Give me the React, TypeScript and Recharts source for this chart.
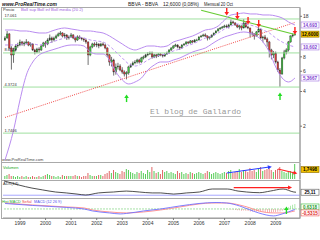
import React from "react";
import {
  ComposedChart,
  Bar,
  Line,
  XAxis,
  YAxis,
  ReferenceLine,
  ReferenceDot,
  Cell,
} from "recharts";

// monthly BBVA candles, Jun 1998 .. Oct 2009
const FIRST_YEAR = 1998;
const FIRST_MONTH = 6;

const opens = [
  11.2, 11.67, 12.64, 9.55, 8.31, 9.18, 9.94,
  10.14, 10.77, 10.35, 10.56, 10.77, 10.14, 10.35, 9.18, 8.82, 9.36, 9.18, 9.94,
  10.56, 10.35, 11.21, 11.67, 11.21, 11.67, 12.14, 12.64, 12.89, 12.14, 12.39, 11.67,
  11.9, 12.39, 11.67, 11.21, 11.9, 11.67, 11.44, 11.21, 10.77, 8.31, 9.75, 10.35,
  10.14, 10.35, 9.94, 10.35, 10.14, 9.55, 8.31, 7.22, 7.51, 5.91, 6.53, 6.66,
  6.15, 5.91, 5.68, 5.8, 6.53, 6.8, 7.08, 7.22, 7.51, 7.22, 7.82, 7.98,
  8.31, 8.47, 8.64, 7.98, 8.31, 8.14, 8.47, 8.31, 8.14, 8.47, 8.64, 9.18,
  9.55, 9.94, 10.14, 9.75, 9.55, 10.14, 10.35, 10.77, 10.56, 10.99, 10.77, 11.21,
  11.21, 11.9, 12.14, 12.39, 12.14, 11.67, 11.9, 12.39, 12.89, 13.42, 13.97, 14.25,
  14.54, 14.83, 14.54, 15.13, 16.07, 15.75, 15.13, 14.54, 14.83, 14.25, 15.75, 14.54,
  14.25, 12.89, 12.64, 12.14, 13.16, 13.97, 11.67, 11.9, 11.44, 10.77, 9.18, 8.31,
  8.64, 7.22, 6.15, 5.68, 7.82, 8.82, 9.18, 10.77, 12.14, 12.39,
];

const closes = [
  11.67, 12.64, 9.55, 8.31, 9.18, 9.94, 10.14,
  10.77, 10.35, 10.56, 10.77, 10.14, 10.35, 9.18, 8.82, 9.36, 9.18, 9.94, 10.56,
  10.35, 11.21, 11.67, 11.21, 11.67, 12.14, 12.64, 12.89, 12.14, 12.39, 11.67, 11.9,
  12.39, 11.67, 11.21, 11.9, 11.67, 11.44, 11.21, 10.77, 8.31, 9.75, 10.35, 10.14,
  10.35, 9.94, 10.35, 10.14, 9.55, 8.31, 7.22, 7.51, 5.91, 6.53, 6.66, 6.15,
  5.91, 5.68, 5.8, 6.53, 6.8, 7.08, 7.22, 7.51, 7.22, 7.82, 7.98, 8.31,
  8.47, 8.64, 7.98, 8.31, 8.14, 8.47, 8.31, 8.14, 8.47, 8.64, 9.18, 9.55,
  9.94, 10.14, 9.75, 9.55, 10.14, 10.35, 10.77, 10.56, 10.99, 10.77, 11.21, 11.21,
  11.9, 12.14, 12.39, 12.14, 11.67, 11.9, 12.39, 12.89, 13.42, 13.97, 14.25, 14.54,
  14.83, 14.54, 15.13, 16.07, 15.75, 15.13, 14.54, 14.83, 14.25, 15.75, 14.54, 14.25,
  12.89, 12.64, 12.14, 13.16, 13.97, 11.67, 11.9, 11.44, 10.77, 9.18, 8.31, 8.64,
  7.22, 6.15, 5.68, 7.82, 8.82, 9.18, 10.77, 12.14, 12.39, 12.6,
];

const highs = [
  12.1, 13.4, 12.9, 9.9, 9.6, 10.3, 10.6,
  11.3, 11.0, 10.9, 11.4, 10.9, 10.7, 10.5, 9.4, 9.6, 9.7, 10.2, 10.8,
  11.0, 11.6, 12.5, 12.0, 12.0, 12.5, 13.0, 13.4, 13.1, 12.9, 12.6, 12.3,
  12.9, 12.6, 11.9, 12.3, 12.3, 11.9, 11.7, 11.4, 10.9, 10.0, 10.6, 10.7,
  10.8, 10.5, 10.6, 10.7, 10.4, 9.7, 8.5, 8.0, 7.7, 7.0, 7.1, 6.9,
  6.5, 6.1, 6.0, 6.7, 7.0, 7.3, 7.5, 7.7, 7.7, 8.0, 8.2, 8.5,
  8.8, 8.9, 8.9, 8.5, 8.5, 8.6, 8.6, 8.5, 8.6, 8.9, 9.3, 9.7,
  10.1, 10.4, 10.3, 9.9, 10.3, 10.5, 10.9, 10.9, 11.2, 11.2, 11.4, 11.5,
  12.1, 12.4, 12.7, 12.8, 12.3, 12.1, 12.5, 13.0, 13.6, 14.2, 14.5, 14.8,
  15.2, 15.3, 15.5, 16.9, 16.5, 16.0, 15.4, 15.2, 15.0, 17.0, 15.9, 14.9,
  14.3, 13.3, 12.8, 13.4, 14.5, 14.0, 12.2, 12.4, 11.8, 11.0, 9.4, 9.0,
  8.9, 7.4, 6.4, 8.0, 9.2, 9.5, 11.0, 12.3, 12.8, 12.9,
];

const lows = [
  11.0, 11.5, 9.3, 6.2, 7.1, 8.9, 9.6,
  9.9, 10.0, 9.9, 10.3, 9.9, 9.8, 9.0, 8.4, 8.6, 8.7, 9.0, 9.8,
  9.6, 10.1, 11.0, 10.6, 10.9, 11.4, 12.0, 12.3, 11.8, 11.6, 11.2, 11.3,
  11.7, 11.4, 10.7, 11.0, 11.4, 11.1, 10.8, 10.4, 6.8, 8.1, 9.5, 9.8,
  9.7, 9.5, 9.8, 9.9, 9.3, 8.0, 6.7, 6.6, 5.5, 5.6, 6.2, 6.0,
  5.7, 5.4, 5.1, 5.6, 6.4, 6.7, 6.9, 7.0, 7.0, 7.1, 7.6, 7.8,
  8.1, 8.3, 7.7, 7.8, 7.8, 8.0, 8.1, 7.9, 8.0, 8.3, 8.5, 9.0,
  9.4, 9.8, 9.5, 9.2, 9.4, 10.0, 10.2, 10.3, 10.4, 10.5, 10.6, 11.0,
  11.1, 11.8, 12.0, 11.9, 11.1, 11.3, 11.7, 12.2, 12.8, 13.3, 13.8, 14.1,
  14.3, 14.2, 14.1, 15.0, 15.5, 14.9, 14.2, 13.8, 13.6, 14.1, 14.2, 13.9,
  11.8, 12.2, 11.3, 12.0, 13.0, 11.4, 10.7, 11.2, 9.8, 7.9, 7.6, 7.8,
  7.0, 5.9, 4.4, 5.6, 7.6, 8.4, 8.9, 10.6, 11.8, 12.2,
];

const volumes = [
  0.35, 0.47, 0.58, 0.35, 0.35, 0.23, 0.35,
  0.23, 0.35, 0.23, 0.35, 0.23, 0.23, 0.35, 0.23, 0.23, 0.35, 0.23, 0.35,
  0.47, 0.58, 0.47, 0.35, 0.35, 0.23, 0.35, 0.23, 0.47, 0.35, 0.35, 0.35,
  0.35, 0.35, 0.47, 0.35, 0.35, 0.23, 0.35, 0.35, 0.7, 0.47, 0.35, 0.35,
  0.35, 0.47, 0.47, 0.35, 0.58, 0.7, 0.93, 0.7, 1.05, 0.82, 0.7, 0.58,
  0.93, 0.82, 1.17, 1.05, 0.82, 0.7, 0.58, 0.82, 0.7, 0.93, 0.7, 0.58,
  1.05, 0.82, 1.4, 0.93, 0.7, 0.82, 0.58, 1.05, 0.82, 0.93, 0.7, 0.82,
  0.7, 0.58, 0.93, 0.7, 0.82, 0.58, 0.7, 0.58, 0.82, 0.7, 0.58, 0.7,
  0.82, 0.7, 0.58, 0.7, 0.93, 0.82, 0.58, 0.7, 0.82, 0.7, 0.58, 0.7,
  0.82, 0.7, 0.93, 1.05, 0.7, 0.82, 0.93, 1.17, 0.82, 1.05, 0.93, 0.82,
  1.28, 0.93, 1.05, 0.82, 1.17, 1.4, 0.93, 1.05, 1.17, 1.52, 1.05, 0.82,
  1.05, 1.17, 1.4, 0.93, 0.82, 0.7, 0.82, 0.93, 0.82, 1.75,
];

// Bollinger (20, 2) every quarter
const bandMonths = [
  "1998-06", "1998-10", "1999-01", "1999-04", "1999-07", "1999-10",
  "2000-01", "2000-04", "2000-07", "2000-10", "2001-01", "2001-04",
  "2001-07", "2001-10", "2002-01", "2002-04", "2002-07", "2002-10",
  "2003-01", "2003-04", "2003-07", "2003-10", "2004-01", "2004-04",
  "2004-07", "2004-10", "2005-01", "2005-04", "2005-07", "2005-10",
  "2006-01", "2006-04", "2006-07", "2006-10", "2007-01", "2007-04",
  "2007-07", "2007-10", "2008-01", "2008-04", "2008-07", "2008-10",
  "2009-01", "2009-04", "2009-07", "2009-10",
];
const bbUpper = [
  13.69, 13.69, 13.42, 13.42, 13.16, 12.89, 12.89, 13.42, 13.97, 14.25, 13.97, 13.69,
  13.42, 13.42, 13.16, 12.89, 12.14, 11.21, 10.35, 9.55, 9.18, 9.55, 9.94, 9.94,
  9.75, 9.94, 10.77, 11.21, 11.67, 12.14, 12.89, 13.69, 13.97, 14.83, 16.72, 18.48,
  18.86, 19.24, 18.86, 18.86, 18.48, 18.48, 18.12, 17.41, 16.07, 15.13,
];
const bbMid = [
  10.14, 10.14, 10.35, 10.35, 10.35, 10.14, 10.35, 10.77, 11.21, 11.67, 11.9, 11.9,
  11.67, 11.21, 10.99, 10.77, 9.94, 8.82, 7.82, 6.94, 6.66, 6.94, 7.51, 7.98,
  8.31, 8.47, 9.0, 9.36, 9.94, 10.35, 10.99, 11.67, 12.14, 12.89, 13.97, 14.83,
  15.44, 15.44, 15.13, 14.54, 13.69, 12.89, 11.67, 10.77, 10.14, 9.75,
];
const bbLower = [
  1.02, 1.85, 3.38, 5.57, 7.22, 8.31, 8.82, 9.18, 9.55, 9.94, 10.14, 10.14,
  9.94, 8.82, 8.47, 8.47, 7.51, 5.91, 5.04, 4.65, 4.84, 5.24, 6.15, 6.8,
  7.22, 7.22, 7.51, 7.82, 8.31, 8.82, 9.18, 9.55, 10.35, 11.21, 11.9, 12.39,
  12.89, 13.16, 12.89, 12.14, 10.77, 8.82, 6.53, 5.24, 4.84, 5.24,
];

const levelLines = [17.061, 8.6522, 4.3724, 1.7406];
const levelLabels = ["17.061", "8.6522", "4.3724", "1.7406"];
const priceTicks = [2, 4, 6, 8, 18];

const sellMonths = ["2007-02", "2007-07", "2007-12", "2008-05", "2009-10"];
const sellLevels = [19.62, 18.12, 16.39, 15.44, 13.42];
const buyMonths = ["2003-03", "2009-03"];
const buyLevels = [3.51, 3.66];

const adxMonths = [
  "1998-06", "1998-08", "1999-01", "1999-07", "1999-12", "2000-06", "2000-11",
  "2001-04", "2001-08", "2002-02", "2002-09", "2003-03", "2003-09", "2004-03",
  "2004-07", "2005-01", "2005-07", "2006-01", "2006-07", "2007-02", "2007-07",
  "2007-11", "2008-05", "2008-10", "2009-04", "2009-09", "2009-10",
];
const adxValues = [
  73.7, 69, 56, 43, 35, 26, 22, 17, 13, 22, 26, 30, 26, 22,
  22, 17, 22, 26, 39, 39, 30, 26, 23, 30, 39, 26, 25.1,
];

const macdMonths = [
  "1998-06", "1999-07", "2000-11", "2001-07", "2001-11", "2002-07", "2002-12",
  "2003-03", "2003-11", "2004-07", "2005-04", "2006-01", "2006-09", "2007-02",
  "2007-08", "2008-01", "2008-05", "2008-12", "2009-04", "2009-10",
];
const macdValues = [
  1.57, 1.0, 0.43, 0, -0.57, -1.14, -1.43, -1.29, -0.57, 0, 0.86, 1.57, 1.86, 1.71,
  0.86, -0.29, -1.14, -2.0, -1.43, -0.14,
];
const signalMonths = [
  "1998-06", "1999-07", "2000-11", "2001-07", "2001-11", "2002-07", "2003-03",
  "2003-11", "2004-07", "2005-04", "2006-01", "2006-07", "2007-02", "2007-08",
  "2008-01", "2008-05", "2008-12", "2009-04", "2009-10",
];
const signalValues = [
  1.71, 1.14, 0.57, 0.29, -0.29, -0.86, -1.14, -0.86, -0.29, 0.57, 1.43, 1.71, 1.71,
  1.14, 0.29, -0.57, -1.14, -1.14, -0.57,
];
const histStart = "2007-03";
const histValues = [
  -0.1, -0.15, -0.2, -0.3, -0.35, -0.4, -0.5, -0.45, -0.55, -0.6, -0.7, -0.75,
  -0.8, -0.7, -0.65, -0.8, -0.9, -0.95, -1.0, -1.1, -1.0, -0.95, -0.9, -0.8,
  -0.7, -0.5, -0.2, 0.2, 0.5, 0.9, 1.2, 1.4,
];

const yearTicks = [
  "1999-01", "2000-01", "2001-01", "2002-01", "2003-01", "2004-01",
  "2005-01", "2006-01", "2007-01", "2008-01", "2009-01",
];

const months = closes.map((_, i) => {
  const t = FIRST_MONTH - 1 + i;
  const y = FIRST_YEAR + Math.floor(t / 12);
  return `${y}-${String((t % 12) + 1).padStart(2, "0")}`;
});

const rows: any[] = months.map((month, i) => ({
  month,
  open: opens[i],
  close: closes[i],
  high: highs[i],
  low: lows[i],
  range: [lows[i], highs[i]],
  volume: volumes[i],
  up: closes[i] >= opens[i],
}));

function put(key: string, ms: string[], vs: number[]) {
  ms.forEach((m, j) => {
    const r = rows.find((row) => row.month === m);
    if (r) r[key] = vs[j];
  });
}
put("bbUpper", bandMonths, bbUpper);
put("bbMid", bandMonths, bbMid);
put("bbLower", bandMonths, bbLower);
put("sell", sellMonths, sellLevels);
put("buy", buyMonths, buyLevels);
put("adx", adxMonths, adxValues);
put("macd", macdMonths, macdValues);
put("signal", signalMonths, signalValues);
put("macdBuy", ["2009-06"], [-0.3]);
const h0 = months.indexOf(histStart);
histValues.forEach((v, j) => {
  rows[h0 + j].hist = v;
});

const FONT = "Liberation Sans, Arial, sans-serif";
const PURPLE = "#b98cf0";
const LEVEL = "#9fe09f";

function Candle(props: any) {
  const { x, y, width, height, payload } = props;
  if (!payload || height == null || isNaN(y)) return <g />;
  const { open, close, high, low } = payload;
  const span = Math.log(high) - Math.log(low);
  const at = (p: number) => y + (height * (Math.log(high) - Math.log(p))) / span;
  const top = at(Math.max(open, close));
  const bottom = at(Math.min(open, close));
  const cx = x + width / 2;
  const bw = Math.max(width - 0.4, 1);
  return (
    <g>
      <line x1={cx} x2={cx} y1={y} y2={y + height} stroke="#333" strokeWidth={0.7} />
      <rect
        x={cx - bw / 2}
        y={top}
        width={bw}
        height={Math.max(bottom - top, 0.8)}
        fill={payload.up ? "#3cc43c" : "#dd3a3a"}
        stroke="#333"
        strokeWidth={0.35}
      />
    </g>
  );
}

function SellArrow(props: any) {
  const { cx, cy, value } = props;
  if (value == null || cx == null || cy == null) return <g key={props.index} />;
  return (
    <g key={props.index}>
      <rect x={cx - 0.7} y={cy - 4} width={1.4} height={4} fill="#ff2020" />
      <polygon points={`${cx - 2.3},${cy} ${cx + 2.3},${cy} ${cx},${cy + 3.5}`} fill="#ff2020" />
    </g>
  );
}

function BuyArrow(props: any) {
  const { cx, cy, value } = props;
  if (value == null || cx == null || cy == null) return <g key={props.index} />;
  return (
    <g key={props.index}>
      <rect x={cx - 0.7} y={cy} width={1.4} height={4} fill="#22dd22" />
      <polygon points={`${cx - 2.3},${cy} ${cx + 2.3},${cy} ${cx},${cy - 3.5}`} fill="#22dd22" />
    </g>
  );
}

const arrowHead = (angle: number, color: string) => (props: any) => {
  const { cx, cy } = props;
  if (cx == null || cy == null) return <g />;
  return (
    <polygon
      points={`${cx + 2.5},${cy} ${cx - 1.5},${cy - 2} ${cx - 1.5},${cy + 2}`}
      fill={color}
      transform={`rotate(${angle} ${cx} ${cy})`}
    />
  );
};

const boxLabel = (text: string, bg: string, border: string, color: string, w = 18) => (props: any) => {
  const vb = props.viewBox;
  if (!vb) return <g />;
  const x = vb.x + vb.width + 1;
  const y = vb.y;
  return (
    <g>
      <rect x={x} y={y - 3} width={w} height={6} fill={bg} stroke={border} strokeWidth={0.6} />
      <text x={x + w / 2} y={y + 1.7} fontSize={4.6} textAnchor="middle" fill={color} fontFamily={FONT} fontWeight="bold">
        {text}
      </text>
    </g>
  );
};

const xAxisProps = { dataKey: "month", padding: { left: 1, right: 4 } };
const margin = { left: 3, right: 0 };

export default function App() {
  return (
    <div style={{ position: "fixed", left: 0, top: 0, width: 320, height: 240, background: "#fff", overflow: "hidden" }}>
      <style>{"body{margin:0}"}</style>
      <svg width={320} height={240} style={{ position: "absolute", left: 0, top: 0 }} fontFamily={FONT}>
        <rect x={1.5} y={7.5} width={298.5} height={211} fill="none" stroke="#aaa" strokeWidth={1} />
        <line x1={1.5} x2={300} y1={162.5} y2={162.5} stroke="#aaa" />
        <line x1={1.5} x2={300} y1={180.5} y2={180.5} stroke="#aaa" />
        <line x1={1.5} x2={300} y1={198.5} y2={198.5} stroke="#aaa" />
        <text x={2} y={6} fontSize={6.2} fontWeight="bold" fontStyle="italic" fill="#222" textLength={55} lengthAdjust="spacingAndGlyphs">
          www.ProRealTime.com
        </text>
        <text x={128} y={6} fontSize={5} fill="#222" textLength={30} lengthAdjust="spacingAndGlyphs">BBVA - BBVA</text>
        <text x={163} y={6} fontSize={5} fill="#222" textLength={36} lengthAdjust="spacingAndGlyphs">12,6000 (0,08%)</text>
        <text x={204} y={6} fontSize={5} fill="#222" textLength={29} lengthAdjust="spacingAndGlyphs">Mensual 20 Oct</text>
        <text x={3} y={11} fontSize={4} fill="#333">Precio</text>
        <text x={21} y={11} fontSize={4} fill="#a060e0" textLength={62} lengthAdjust="spacingAndGlyphs">
          Boll sup  Boll inf  Boll media (20 2)
        </text>
        <text x={150} y={114} fontSize={8} fill="#999" fontFamily="Liberation Mono, DejaVu Sans Mono, monospace" textLength={91} lengthAdjust="spacingAndGlyphs">
          El blog de Gallardo
        </text>
        <line x1={150} x2={241} y1={116.5} y2={116.5} stroke="#aaa" strokeWidth={0.8} />
        <text x={2} y={161} fontSize={4} fill="#444">www.ProRealTime.com</text>
        <text x={3} y={168.5} fontSize={4} fill="#22aa22">Volumen</text>
        <text x={3} y={185} fontSize={4} fill="#333">ADX(14)</text>
        <text x={2} y={202.5} fontSize={3.8} fill="#22aa22">Hist MACD</text>
        <text x={22} y={202.5} fontSize={3.8} fill="#ee4444">Señal</text>
        <text x={34} y={202.5} fontSize={3.8} fill="#5050ee">MACD (12 26 9)</text>
      </svg>

      {/* price panel */}
      <div style={{ position: "absolute", left: 0, top: 0 }}>
        <ComposedChart width={320} height={163} data={rows} margin={{ ...margin, top: 8, bottom: 1 }} barCategoryGap={0} barGap={0}>
          <XAxis {...xAxisProps} hide />
          <YAxis
            orientation="right"
            width={20}
            scale="log"
            domain={[0.977, 21.25]}
            allowDataOverflow
            ticks={priceTicks}
            interval={0}
            tickSize={2}
            tickMargin={1}
            tick={{ fontSize: 5, fill: "#333", fontFamily: FONT }}
            tickLine={{ stroke: "#777" }}
            axisLine={{ stroke: "#999" }}
          />
          {levelLines.map((v, i) => (
            <ReferenceLine
              key={v}
              y={v}
              stroke={LEVEL}
              strokeWidth={1}
              label={{ value: levelLabels[i], position: "insideBottomLeft", offset: 1.5, fontSize: 4, fill: "#333", fontFamily: FONT }}
            />
          ))}
          <ReferenceLine
            segment={[{ x: "1998-06", y: 2.38 }, { x: "2009-10", y: 15.91 }]}
            stroke="#ee3333"
            strokeWidth={0.9}
            strokeDasharray="1 1.2"
          />
          <ReferenceLine
            segment={[{ x: "2006-02", y: 20.3 }, { x: "2009-10", y: 12.5 }]}
            stroke="#66cc33"
            strokeWidth={1.2}
          />
          <Line dataKey="bbUpper" stroke={PURPLE} strokeWidth={1} dot={false} connectNulls type="monotone" isAnimationActive={false} />
          <Line dataKey="bbLower" stroke={PURPLE} strokeWidth={1} dot={false} connectNulls type="monotone" isAnimationActive={false} />
          <Line dataKey="bbMid" stroke={PURPLE} strokeWidth={0.9} strokeDasharray="3 2" dot={false} connectNulls type="monotone" isAnimationActive={false} />
          <Bar dataKey="range" shape={Candle} isAnimationActive={false} />
          <Line dataKey="sell" stroke="none" dot={SellArrow} activeDot={false} isAnimationActive={false} />
          <Line dataKey="buy" stroke="none" dot={BuyArrow} activeDot={false} isAnimationActive={false} />
          <ReferenceLine y={15.13} stroke="none" label={boxLabel("14,693", "#fff", "#a070e0", "#8040d0")} />
          <ReferenceLine y={12.6} stroke="none" label={boxLabel("12,6000", "#f2c200", "#8a6a00", "#000")} />
          <ReferenceLine y={9.75} stroke="none" label={boxLabel("10,602", "#fff", "#a070e0", "#8040d0")} />
          <ReferenceLine y={5.24} stroke="none" label={boxLabel("5,3667", "#fff", "#a070e0", "#8040d0")} />
        </ComposedChart>
      </div>

      {/* volume panel */}
      <div style={{ position: "absolute", left: 0, top: 162 }}>
        <ComposedChart width={320} height={18} data={rows} margin={{ ...margin, top: 1, bottom: 1 }} barCategoryGap="15%">
          <XAxis {...xAxisProps} hide />
          <YAxis orientation="right" width={20} domain={[0, 1.87]} allowDataOverflow ticks={[]} tick={false} tickLine={false} axisLine={{ stroke: "#999" }} />
          <Bar dataKey="volume" isAnimationActive={false}>
            {rows.map((r) => (
              <Cell key={r.month} fill={r.up ? "#55cc55" : "#e06666"} />
            ))}
          </Bar>
          <ReferenceLine segment={[{ x: "2007-02", y: 0.7 }, { x: "2008-10", y: 1.4 }]} stroke="#2a3cff" strokeWidth={1.2} />
          <ReferenceDot x="2008-10" y={1.4} r={2} shape={arrowHead(-9, "#2a3cff")} />
          <ReferenceLine segment={[{ x: "2009-02", y: 1.17 }, { x: "2009-10", y: 0.7 }]} stroke="#ff2020" strokeWidth={1.2} />
          <ReferenceDot x="2009-10" y={0.7} r={2} shape={arrowHead(14, "#ff2020")} />
          <ReferenceLine y={1.1} stroke="none" label={boxLabel("1,7498", "#f2c200", "#8a6a00", "#000")} />
        </ComposedChart>
      </div>

      {/* ADX panel */}
      <div style={{ position: "absolute", left: 0, top: 180 }}>
        <ComposedChart width={320} height={18} data={rows} margin={{ ...margin, top: 0, bottom: 0 }}>
          <XAxis {...xAxisProps} hide />
          <YAxis
            orientation="right"
            width={20}
            domain={[0, 78]}
            allowDataOverflow
            ticks={[60]}
            tickSize={2}
            tickMargin={1}
            tick={{ fontSize: 5, fill: "#333", fontFamily: FONT }}
            tickLine={{ stroke: "#777" }}
            axisLine={{ stroke: "#999" }}
          />
          <ReferenceLine y={12} stroke="#9090ff" strokeWidth={0.8} />
          <Line dataKey="adx" stroke="#222" strokeWidth={0.8} dot={false} connectNulls type="monotone" isAnimationActive={false} />
          <ReferenceLine segment={[{ x: "2007-05", y: 45 }, { x: "2009-07", y: 45 }]} stroke="#ff2020" strokeWidth={1.2} />
          <ReferenceDot x="2009-07" y={45} r={2} shape={arrowHead(0, "#ff2020")} />
          <ReferenceLine y={25.11} stroke="none" label={boxLabel("25,11", "#fff", "#555", "#000")} />
        </ComposedChart>
      </div>

      {/* MACD panel + time axis */}
      <div style={{ position: "absolute", left: 0, top: 198 }}>
        <ComposedChart width={320} height={37} data={rows} margin={{ ...margin, top: 0, bottom: 2 }} barCategoryGap="40%">
          <XAxis
            {...xAxisProps}
            ticks={yearTicks}
            interval={0}
            height={15}
            tickFormatter={(v: string) => v.slice(0, 4)}
            tickSize={2}
            tickMargin={1}
            tick={{ fontSize: 5, fill: "#333", fontFamily: FONT }}
            tickLine={{ stroke: "#777" }}
            axisLine={{ stroke: "#999" }}
          />
          <YAxis
            orientation="right"
            width={20}
            domain={[-2.6, 3.15]}
            allowDataOverflow
            ticks={[2]}
            tickSize={2}
            tickMargin={1}
            tick={{ fontSize: 5, fill: "#333", fontFamily: FONT }}
            tickLine={{ stroke: "#777" }}
            axisLine={{ stroke: "#999" }}
          />
          <ReferenceLine y={0} stroke="#8fd88f" strokeWidth={0.8} strokeDasharray="2 1" />
          <Bar dataKey="hist" isAnimationActive={false}>
            {rows.map((r) => (
              <Cell key={r.month} fill={(r.hist ?? 0) >= 0 ? "#44cc44" : "#e05050"} />
            ))}
          </Bar>
          <Line dataKey="signal" stroke="#ff8a8a" strokeWidth={0.9} dot={false} connectNulls type="monotone" isAnimationActive={false} />
          <Line dataKey="macd" stroke="#7070ff" strokeWidth={0.9} dot={false} connectNulls type="monotone" isAnimationActive={false} />
          <Line dataKey="macdBuy" stroke="none" dot={BuyArrow} activeDot={false} isAnimationActive={false} />
          <ReferenceLine y={0.57} stroke="none" label={boxLabel("0,6318", "#fff", "#33bb33", "#229922")} />
          <ReferenceLine y={-1.14} stroke="none" label={boxLabel("-0,5315", "#fff", "#ee5555", "#dd2222")} />
        </ComposedChart>
      </div>
    </div>
  );
}
